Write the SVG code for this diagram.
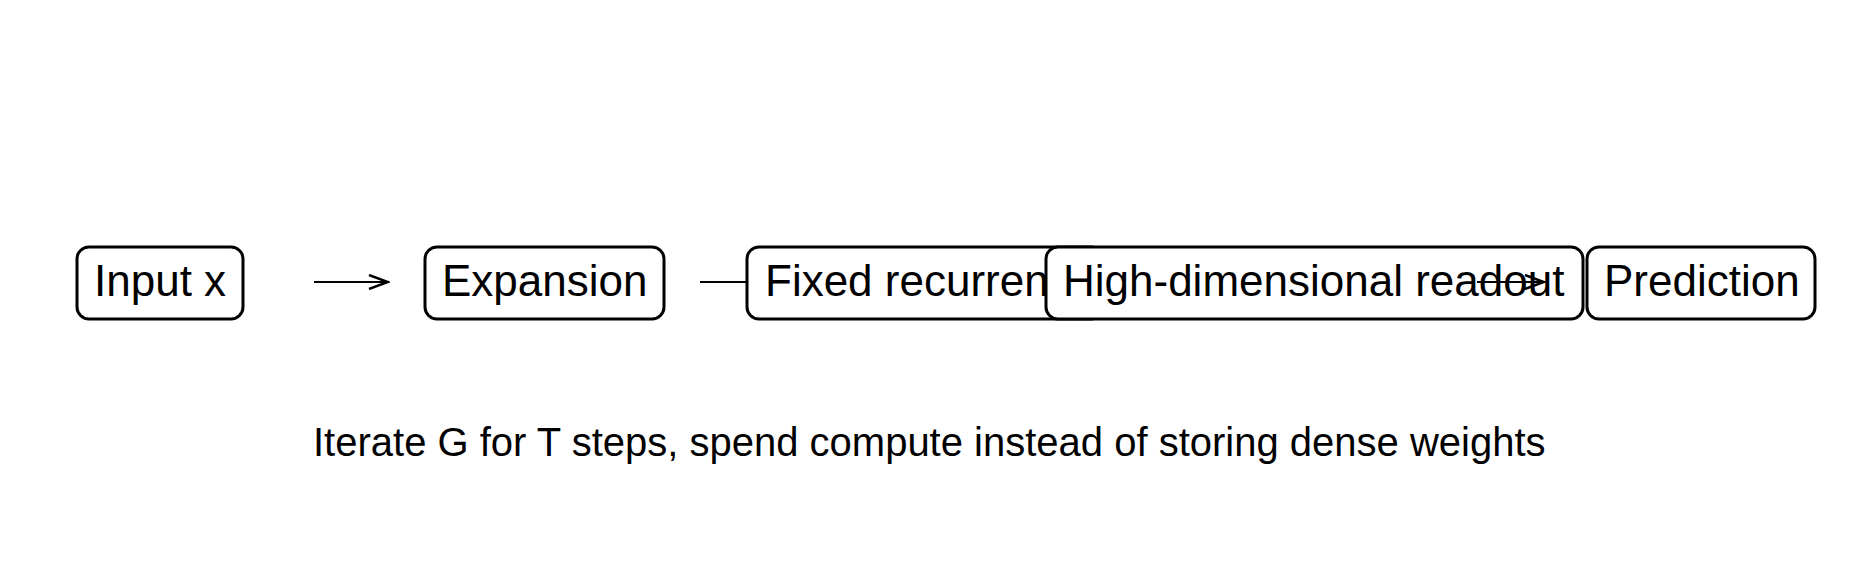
<svg xmlns="http://www.w3.org/2000/svg" width="1860" height="567" viewBox="0 0 1860 567">
<style>
.b{fill:#fff;stroke:#000;stroke-width:3}
.t{font-family:"Liberation Sans",Arial,sans-serif;font-size:44px;fill:#000}
.c{stroke:#000;stroke-width:2;fill:none}
</style>
<defs><marker id="a" markerWidth="22" markerHeight="16" refX="20" refY="8" orient="auto" markerUnits="userSpaceOnUse"><path d="M1,1 L20,8 L1,15" fill="none" stroke="#000" stroke-width="2.5"/></marker></defs>
<rect width="1860" height="567" fill="#fff"/>
<g id="connectors">
<line class="c" x1="314" y1="282" x2="388" y2="282" marker-end="url(#a)"/>
<line class="c" x1="700" y1="282" x2="748" y2="282"/>
</g>
<g id="input"><rect class="b" x="77" y="247" width="166" height="72" rx="12"/><text class="t" x="94" y="296">Input x</text></g>
<g id="expansion"><rect class="b" x="425" y="247" width="239" height="72" rx="12"/><text class="t" x="442" y="296">Expansion</text></g>
<g id="fixed"><rect class="b" x="747" y="247" width="356" height="72" rx="12"/><text class="t" x="765" y="296">Fixed recurrent G</text></g>
<g id="readout"><rect class="b" x="1046" y="247" width="537" height="72" rx="12"/><text class="t" x="1063" y="296">High-dimensional readout</text></g>
<g id="connectors2"><line class="c" x1="1477" y1="282" x2="1544" y2="282" marker-end="url(#a)"/></g>
<g id="prediction"><rect class="b" x="1587" y="247" width="228" height="72" rx="12"/><text class="t" x="1604" y="296">Prediction</text></g>
<text x="313" y="456" style="font-family:'Liberation Sans',Arial,sans-serif;font-size:40px">Iterate G for T steps, spend compute instead of storing dense weights</text>
</svg>
